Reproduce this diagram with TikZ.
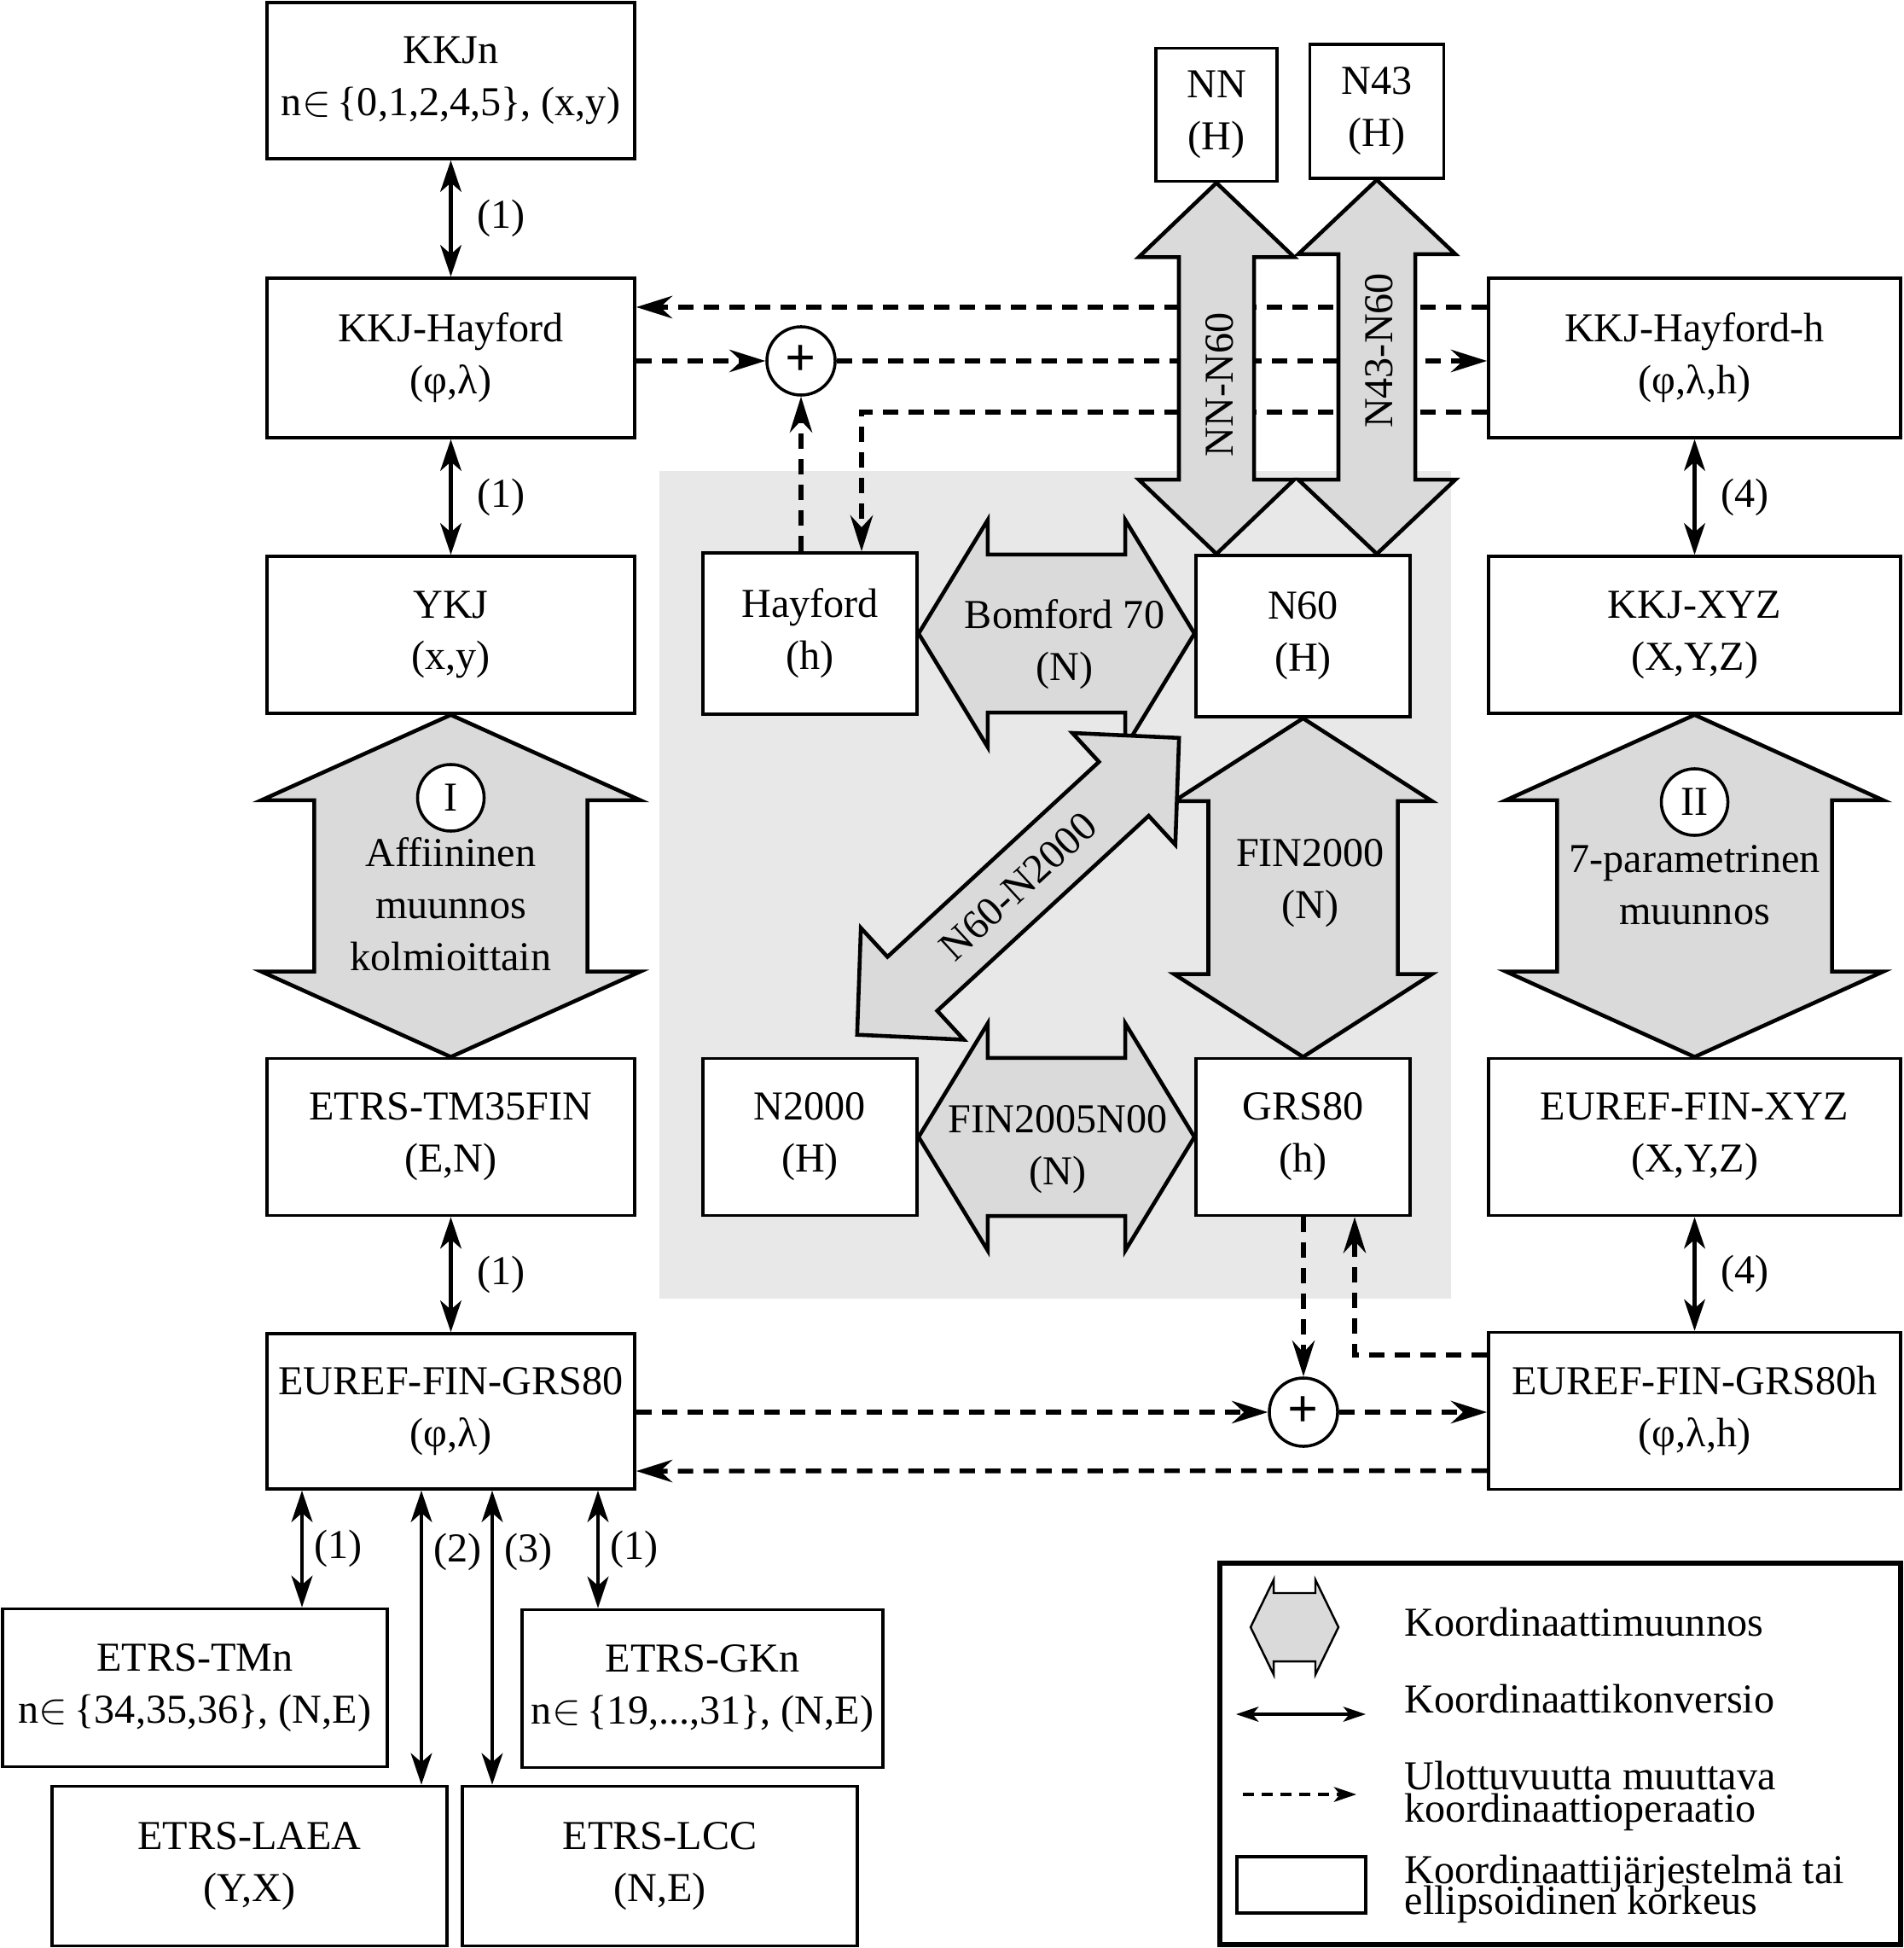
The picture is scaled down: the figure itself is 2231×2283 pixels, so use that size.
\documentclass[tikz,border=0pt]{standalone}
\usepackage{fontspec}
\setmainfont{Liberation Serif}
\usetikzlibrary{calc, arrows.meta}
\definecolor{bggray}{RGB}{232,232,232}
\definecolor{arrgray}{RGB}{218,218,218}
\tikzset{
    sysbox/.style={draw, line width=1pt, fill=white, align=center,
        inner sep=0pt, minimum height=1.84cm},
    fatarr/.style={draw, fill=arrgray, line width=1.3pt, line join=miter},
    conv/.style={<->, >={Stealth[length=10.5pt, width=7pt, inset=3pt]},
        line width=1.4pt},
    dimop/.style={->, >={Stealth[length=12pt, width=7.5pt, inset=4pt]},
        line width=1.55pt, dash pattern=on 0.18cm off 0.12cm},
    plusnode/.style={circle, draw, fill=white, line width=1pt,
        minimum size=0.8cm, inner sep=0pt, font=\bfseries\fontsize{18}{18}\selectfont},
    romnode/.style={circle, draw, fill=white, line width=1pt,
        minimum size=0.78cm, inner sep=0pt},
    arrtext/.style={align=center, inner sep=0pt},
    lbl/.style={right, xshift=0.17cm},
    legtext/.style={anchor=west, inner sep=0pt, align=left,
        font=\fontsize{13.7}{13.7}\selectfont},
}
% fat double arrow: from, to, shaft half width, head half width, head length, options
\newcommand{\fatarrow}[6]{%
    \coordinate (faA) at ($(#1)!#5!(#2)$);
    \coordinate (faB) at ($(#2)!#5!(#1)$);
    \filldraw[fatarr, #6] (#1) -- ($(faA)!#4!90:(#2)$) -- ($(faA)!#3!90:(#2)$)
        -- ($(faB)!#3!-90:(#1)$) -- ($(faB)!#4!-90:(#1)$) -- (#2)
        -- ($(faB)!#4!90:(#1)$) -- ($(faB)!#3!90:(#1)$)
        -- ($(faA)!#3!-90:(#2)$) -- ($(faA)!#4!-90:(#2)$) -- cycle;
}
\begin{document}
\begin{tikzpicture}[x=0.01cm, y=-0.01cm, font=\fontsize{13.7}{17.3}\selectfont]
    \useasboundingbox (0,0) rectangle (2231,2283);
    \fill[bggray] (773,552) rectangle (1701,1522);

    % coordinate systems
    \node[sysbox, minimum width=4.31cm, minimum height=1.83cm] (kkjn) at (528.5,94.5)
        {KKJn\\n$\in$\,\{0,1,2,4,5\}, (x,y)};
    \node[sysbox, minimum width=4.31cm, minimum height=1.87cm] (kkjh) at (528.5,419.5)
        {KKJ-Hayford\\(φ,λ)};
    \node[sysbox, minimum width=4.31cm] (ykj) at (528.5,744) {YKJ\\(x,y)};
    \node[sysbox, minimum width=4.31cm] (tm35) at (528.5,1332.5) {ETRS-TM35FIN\\(E,N)};
    \node[sysbox, minimum width=4.31cm, minimum height=1.82cm] (egrs) at (528.5,1654)
        {EUREF-FIN-GRS80\\(φ,λ)};
    \node[sysbox, minimum width=4.83cm, minimum height=1.87cm] (kkjhh) at (1986.5,419.5)
        {KKJ-Hayford-h\\(φ,λ,h)};
    \node[sysbox, minimum width=4.83cm] (kkjxyz) at (1986.5,744) {KKJ-XYZ\\(X,Y,Z)};
    \node[sysbox, minimum width=4.83cm] (efxyz) at (1986.5,1332.5) {EUREF-FIN-XYZ\\(X,Y,Z)};
    \node[sysbox, minimum width=4.83cm] (egrsh) at (1986.5,1653.5)
        {EUREF-FIN-GRS80h\\(φ,λ,h)};
    \node[sysbox, minimum width=2.51cm, minimum height=1.89cm] (hay) at (949.5,742.5)
        {Hayford\\(h)};
    \node[sysbox, minimum width=2.51cm, minimum height=1.89cm] (n60) at (1527.5,745.5)
        {N60\\(H)};
    \node[sysbox, minimum width=2.51cm] (n2000) at (949.5,1332.5) {N2000\\(H)};
    \node[sysbox, minimum width=2.51cm] (grs) at (1527.5,1332.5) {GRS80\\(h)};
    \node[sysbox, minimum width=1.42cm, minimum height=1.56cm] (nn) at (1426,134.5)
        {NN\\(H)};
    \node[sysbox, minimum width=1.57cm, minimum height=1.57cm] (n43) at (1614,130.5)
        {N43\\(H)};
    \node[sysbox, minimum width=4.51cm, minimum height=1.85cm] (tmn) at (228.5,1978)
        {ETRS-TMn\\n$\in$\,\{34,35,36\}, (N,E)};
    \node[sysbox, minimum width=4.23cm, minimum height=1.85cm] (gkn) at (823.5,1979)
        {ETRS-GKn\\n$\in$\,\{19,...,31\}, (N,E)};
    \node[sysbox, minimum width=4.63cm, minimum height=1.87cm] (laea) at (292.5,2187)
        {ETRS-LAEA\\(Y,X)};
    \node[sysbox, minimum width=4.63cm, minimum height=1.87cm] (lcc) at (773.5,2187)
        {ETRS-LCC\\(N,E)};

    \node[plusnode] (plusA) at (939,423) {+};
    \node[plusnode] (plusB) at (1528,1655) {+};

    % dimension changing operations
    \coordinate (hayin) at (1010,0);
    \coordinate (grsin) at (1588,0);
    \draw[dimop] ([yshift=0.595cm]kkjhh.west) -- ([yshift=0.595cm]kkjh.east);
    \draw[dimop] (kkjh.east |- plusA) -- (plusA);
    \draw[dimop] (plusA) -- (kkjhh.west |- plusA);
    \draw[dimop] ([yshift=-0.635cm]kkjhh.west) -| (hay.north -| hayin);
    \draw[dimop] (hay.north -| plusA) -- (plusA);
    \draw[dimop] (egrs.east |- plusB) -- (plusB);
    \draw[dimop] (plusB) -- (egrsh.west |- plusB);
    \draw[dimop] ([yshift=-0.7cm]egrsh.west) -- ([yshift=-0.7cm]egrs.east);
    \draw[dimop] (grs.south -| plusB) -- (plusB);
    \draw[dimop] ([yshift=0.655cm]egrsh.west) -| (grs.south -| grsin);

    % transformations
    \coordinate (bomR) at (n60.west |- hay.east);
    \coordinate (nnE) at (n60.north -| nn.south);
    \coordinate (n43E) at (n60.north -| n43.south);
    \coordinate (f00E) at (grs.north -| n60.south);
    \coordinate (dgA) at ([shift={(-0.72cm,0.26cm)}]n2000.north east);
    \coordinate (dgB) at ([shift={(-0.18cm,-0.23cm)}]n60.south west);
    \fatarrow{ykj.south}{tm35.north}{1.60cm}{2.22cm}{1.0cm}{}
    \fatarrow{kkjxyz.south}{efxyz.north}{1.61cm}{2.21cm}{1.0cm}{}
    \fatarrow{nn.south}{nnE}{0.44cm}{0.91cm}{0.87cm}{}
    \fatarrow{n43.south}{n43E}{0.45cm}{0.92cm}{0.87cm}{}
    \fatarrow{hay.east}{bomR}{0.925cm}{1.33cm}{0.81cm}{}
    \fatarrow{n2000.east}{grs.west}{0.925cm}{1.33cm}{0.81cm}{}
    \fatarrow{n60.south}{f00E}{1.11cm}{1.51cm}{0.97cm}{}
    \fatarrow{dgA}{dgB}{0.43cm}{0.89cm}{0.88cm}{}

    \node[rotate=90] (tNN) at (1430,451) {NN-N60};
    \node[rotate=90] (tN43) at (1617,411) {N43-N60};
    \node[arrtext] (tBom) at (1248,755) {Bomford 70\\(N)};
    \node[arrtext] (tF05) at (1240,1347) {FIN2005N00\\(N)};
    \node[arrtext] (tF00) at (1536,1035) {FIN2000\\(N)};
    \path (dgA) -- (dgB) node[midway, sloped] (tDg) {N60-N2000};
    \node[romnode] (romI) at (528.5,935) {I};
    \node[arrtext] (tI) at (528.5,1060) {Affiininen\\muunnos\\kolmioittain};
    \node[romnode] (romII) at (1986.5,940) {II};
    \node[arrtext] (tII) at (1986.5,1037) {7-parametrinen\\muunnos};

    % conversions
    \draw[conv] (kkjn) -- (kkjh) node[midway, lbl] {(1)};
    \draw[conv] (kkjh) -- (ykj) node[midway, lbl] {(1)};
    \draw[conv] (tm35) -- (egrs) node[midway, lbl] {(1)};
    \draw[conv] (kkjhh) -- (kkjxyz) node[midway, lbl] {(4)};
    \draw[conv] (efxyz) -- (egrsh) node[midway, lbl] {(4)};
    \foreach \bx/\tgt/\num/\pp in {354/tmn/1/0.5, 494/laea/2/0.21,
                                  577/lcc/3/0.21, 701/gkn/1/0.5}{
        \coordinate (bx) at (\bx,0);
        \draw[conv] (egrs.south -| bx) -- (\tgt.north -| bx)
            node[pos=\pp, right] {(\num)};
    }

    % legend
    \draw[line width=1.7pt] (1430,1832) rectangle (2228,2279);
    \coordinate (lgA) at (1466,1907);
    \coordinate (lgB) at (1569,1907);
    \coordinate (lgC) at (1449,2009);
    \coordinate (lgD) at (1601,2009);
    \coordinate (lgE) at (1457,2103);
    \coordinate (lgF) at (1590,2103);
    \fatarrow{lgA}{lgB}{0.40cm}{0.555cm}{0.27cm}{line width=0.7pt}
    \draw[conv, line width=0.9pt, >={Stealth[length=7.5pt, width=5pt, inset=2pt]}]
        (lgC) -- (lgD);
    \draw[dimop, line width=0.9pt, dash pattern=on 0.13cm off 0.09cm,
        >={Stealth[length=7.5pt, width=5pt, inset=2pt]}] (lgE) -- (lgF);
    \draw[line width=1pt] (1450,2176) rectangle (1601,2242);
    \node[legtext] (lg1) at (1646,1901) {Koordinaattimuunnos};
    \node[legtext] (lg2) at (1646,1991) {Koordinaattikonversio};
    \node[legtext] (lg3) at (1646,2105) {Ulottuvuutta muuttava\\[-3pt]koordinaattioperaatio};
    \node[legtext] (lg4) at (1646,2214) {Koordinaattijärjestelmä tai\\[-3.6pt]ellipsoidinen korkeus};
\end{tikzpicture}
\end{document}
